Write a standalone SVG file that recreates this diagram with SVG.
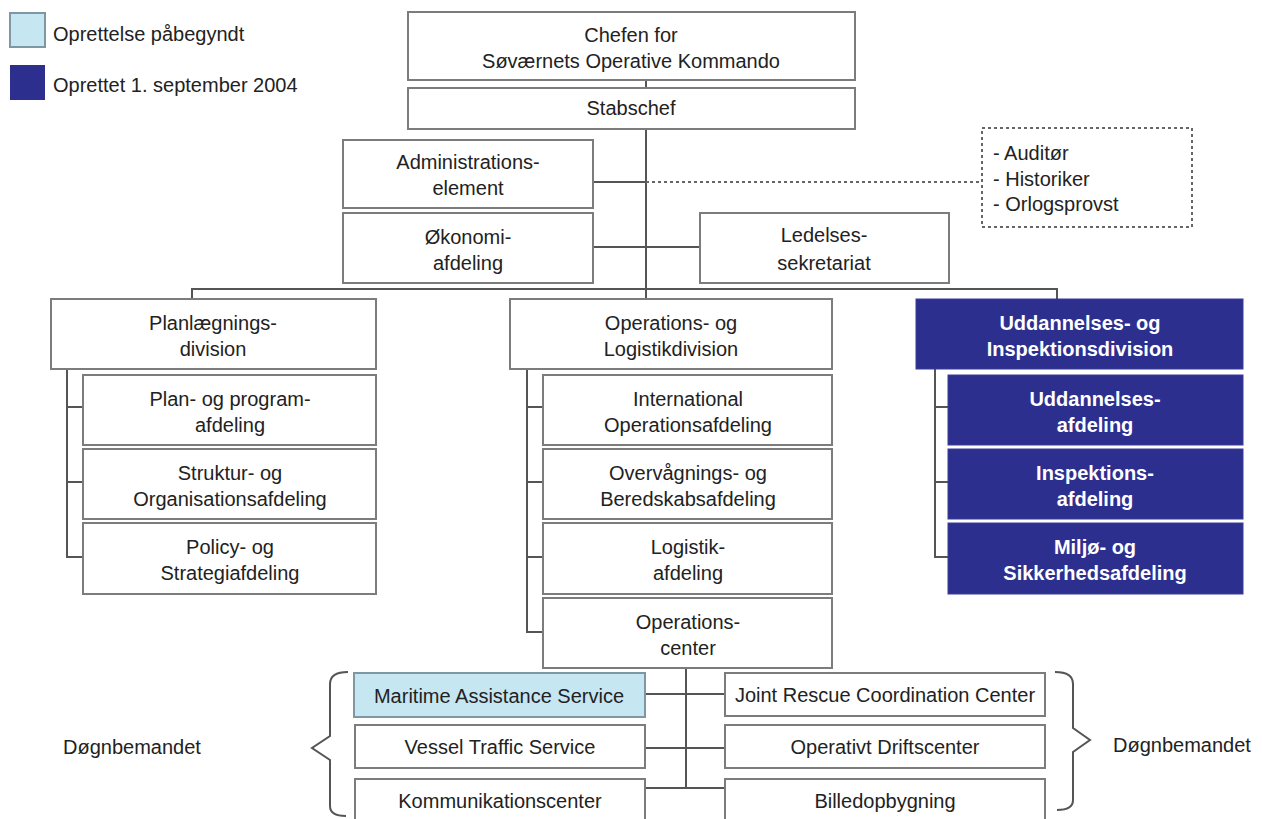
<svg xmlns="http://www.w3.org/2000/svg" width="1262" height="819" viewBox="0 0 1262 819">
<style>
.b{fill:#fff;stroke:#7c7c7c;stroke-width:2}
.d{fill:#2d2f8f;stroke:#3a3c96;stroke-width:1}
.l{fill:#c6e6f2;stroke:#7d98a4;stroke-width:2}
.t{font-family:"Liberation Sans",Arial,sans-serif;font-size:20px;fill:#222;text-anchor:middle}
.w{font-family:"Liberation Sans",Arial,sans-serif;font-size:20px;fill:#fff;font-weight:bold;text-anchor:middle}
.s{font-family:"Liberation Sans",Arial,sans-serif;font-size:20px;fill:#222}
.c{fill:none;stroke:#555;stroke-width:2}
.dot{fill:none;stroke:#666;stroke-width:2;stroke-dasharray:3 3}
</style>
<rect width="1262" height="819" fill="#fff"/>
<g id="legend">
<rect x="10" y="13" width="35" height="34" class="l"/>
<text x="53" y="41" class="s">Oprettelse påbegyndt</text>
<rect x="10" y="65" width="35" height="35" fill="#2d2f8f"/>
<text x="53" y="92" class="s">Oprettet 1. september 2004</text>
</g>
<g id="connectors">
<line x1="646" y1="80" x2="646" y2="88" class="c"/>
<line x1="646" y1="129" x2="646" y2="299" class="c"/>
<line x1="593" y1="182" x2="646" y2="182" class="c"/>
<line x1="646" y1="182" x2="982" y2="182" class="dot"/>
<line x1="593" y1="247" x2="700" y2="247" class="c"/>
<polyline points="192,299 192,289 1057,289 1057,299" class="c"/>
<polyline points="67,369 67,557 83,557" class="c"/>
<line x1="67" y1="407" x2="83" y2="407" class="c"/>
<line x1="67" y1="482" x2="83" y2="482" class="c"/>
<polyline points="527,369 527,632 543,632" class="c"/>
<line x1="527" y1="407" x2="543" y2="407" class="c"/>
<line x1="527" y1="482" x2="543" y2="482" class="c"/>
<line x1="527" y1="557" x2="543" y2="557" class="c"/>
<polyline points="935,369 935,557 948,557" class="c"/>
<line x1="935" y1="407" x2="948" y2="407" class="c"/>
<line x1="935" y1="482" x2="948" y2="482" class="c"/>
<line x1="686" y1="668" x2="686" y2="788" class="c"/>
<line x1="645" y1="694" x2="725" y2="694" class="c"/>
<line x1="645" y1="748" x2="725" y2="748" class="c"/>
<line x1="645" y1="788" x2="725" y2="788" class="c"/>
<path d="M348,672 Q330,672 330,684 L330,736 L312,748 L330,760 L330,806 Q330,816 346,816" class="c" stroke-width="1.5"/>
<path d="M1055,672 Q1073,672 1073,684 L1073,728 L1090,740 L1073,752 L1073,800 Q1073,810 1057,810" class="c" stroke-width="1.5"/>
</g>
<g id="chefen"><rect x="408" y="12" width="447" height="68" class="b"/><text x="631" y="42" class="t">Chefen for</text><text x="631" y="68" class="t">Søværnets Operative Kommando</text></g>
<g id="stabschef"><rect x="408" y="88" width="447" height="41" class="b"/><text x="631" y="115" class="t">Stabschef</text></g>
<g id="admin"><rect x="343" y="140" width="250" height="68" class="b"/><text x="468" y="169" class="t">Administrations-</text><text x="468" y="195" class="t">element</text></g>
<g id="okonomi"><rect x="343" y="213" width="250" height="70" class="b"/><text x="468" y="244" class="t">Økonomi-</text><text x="468" y="270" class="t">afdeling</text></g>
<g id="ledelses"><rect x="700" y="213" width="249" height="70" class="b"/><text x="824" y="242" class="t">Ledelses-</text><text x="824" y="270" class="t">sekretariat</text></g>
<g id="auditor"><rect x="982" y="128" width="210" height="99" class="dot"/><text x="993" y="160" class="s">- Auditør</text><text x="993" y="186" class="s">- Historiker</text><text x="993" y="211" class="s">- Orlogsprovst</text></g>
<g id="planlaegning"><rect x="51" y="299" width="325" height="70" class="b"/><text x="213" y="330" class="t">Planlægnings-</text><text x="213" y="356" class="t">division</text></g>
<g id="plan"><rect x="83" y="375" width="293" height="70" class="b"/><text x="230" y="406" class="t">Plan- og program-</text><text x="230" y="432" class="t">afdeling</text></g>
<g id="struktur"><rect x="83" y="449" width="293" height="70" class="b"/><text x="230" y="480" class="t">Struktur- og</text><text x="230" y="506" class="t">Organisationsafdeling</text></g>
<g id="policy"><rect x="83" y="523" width="293" height="71" class="b"/><text x="230" y="554" class="t">Policy- og</text><text x="230" y="580" class="t">Strategiafdeling</text></g>
<g id="operations"><rect x="510" y="299" width="322" height="70" class="b"/><text x="671" y="330" class="t">Operations- og</text><text x="671" y="356" class="t">Logistikdivision</text></g>
<g id="international"><rect x="543" y="375" width="289" height="70" class="b"/><text x="688" y="406" class="t">International</text><text x="688" y="432" class="t">Operationsafdeling</text></g>
<g id="overvagning"><rect x="543" y="449" width="289" height="70" class="b"/><text x="688" y="480" class="t">Overvågnings- og</text><text x="688" y="506" class="t">Beredskabsafdeling</text></g>
<g id="logistik"><rect x="543" y="523" width="289" height="71" class="b"/><text x="688" y="554" class="t">Logistik-</text><text x="688" y="580" class="t">afdeling</text></g>
<g id="opcenter"><rect x="543" y="598" width="289" height="70" class="b"/><text x="688" y="629" class="t">Operations-</text><text x="688" y="655" class="t">center</text></g>
<g id="uddannelsesdiv"><rect x="916" y="299" width="327" height="70" class="d"/><text x="1080" y="330" class="w">Uddannelses- og</text><text x="1080" y="356" class="w">Inspektionsdivision</text></g>
<g id="uddannelsesafd"><rect x="948" y="375" width="295" height="70" class="d"/><text x="1095" y="406" class="w">Uddannelses-</text><text x="1095" y="432" class="w">afdeling</text></g>
<g id="inspektion"><rect x="948" y="449" width="295" height="70" class="d"/><text x="1095" y="480" class="w">Inspektions-</text><text x="1095" y="506" class="w">afdeling</text></g>
<g id="miljo"><rect x="948" y="523" width="295" height="71" class="d"/><text x="1095" y="554" class="w">Miljø- og</text><text x="1095" y="580" class="w">Sikkerhedsafdeling</text></g>
<g id="mas"><rect x="354" y="673" width="291" height="44" class="l"/><text x="499" y="703" class="t">Maritime Assistance Service</text></g>
<g id="vts"><rect x="355" y="725" width="290" height="43" class="b"/><text x="500" y="754" class="t">Vessel Traffic Service</text></g>
<g id="komm"><rect x="355" y="779" width="290" height="44" class="b"/><text x="500" y="808" class="t">Kommunikationscenter</text></g>
<g id="jrcc"><rect x="725" y="673" width="320" height="43" class="b"/><text x="885" y="702" class="t">Joint Rescue Coordination Center</text></g>
<g id="odc"><rect x="725" y="725" width="320" height="43" class="b"/><text x="885" y="754" class="t">Operativt Driftscenter</text></g>
<g id="billed"><rect x="725" y="779" width="320" height="44" class="b"/><text x="885" y="808" class="t">Billedopbygning</text></g>
<g id="dogn-left"><text x="63" y="754" class="s">Døgnbemandet</text></g>
<g id="dogn-right"><text x="1113" y="752" class="s">Døgnbemandet</text></g>
</svg>
